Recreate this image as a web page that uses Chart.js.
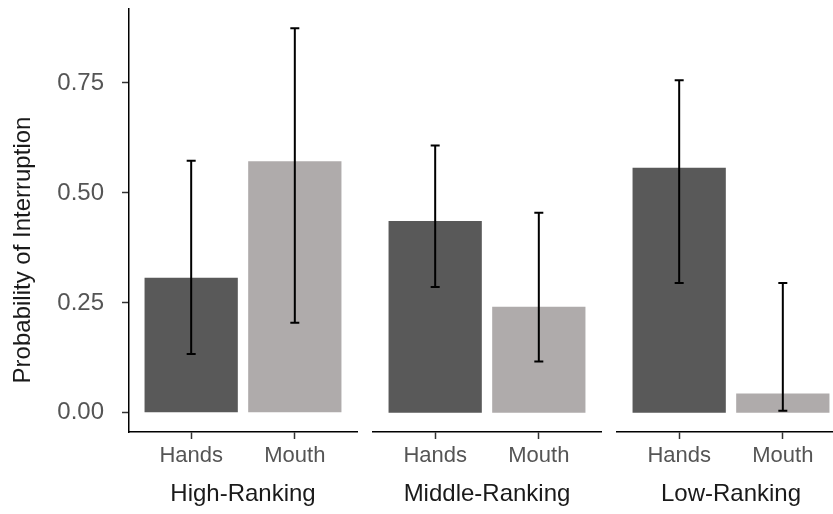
<!DOCTYPE html>
<html>
<head>
<meta charset="utf-8">
<script src="https://cdn.jsdelivr.net/npm/chart.js@4.4.0/dist/chart.umd.min.js"></script>
<style>
  html, body { margin: 0; padding: 0; background: #fff; overflow: hidden; }
  #wrap { position: relative; width: 833px; height: 514px; overflow: hidden; }
  canvas { position: absolute; top: 0; }
</style>
</head>
<body>
<div id="wrap">
  <canvas id="panel0" width="362" height="514" style="left:0px"></canvas>
  <canvas id="panel1" width="238" height="514" style="left:368px"></canvas>
  <canvas id="panel2" width="238" height="514" style="left:612px"></canvas>
</div>
<script>
// data
var categories = ['Hands', 'Mouth'];
var groups = ['High-Ranking', 'Middle-Ranking', 'Low-Ranking'];
var probHands  = [0.307, 0.436, 0.557];
var probMouth  = [0.572, 0.241, 0.044];
var lowerHands = [0.134, 0.286, 0.295];
var upperHands = [0.573, 0.608, 0.756];
var lowerMouth = [0.205, 0.117, 0.005];
var upperMouth = [0.874, 0.455, 0.295];
var yTicks = [0, 0.25, 0.5, 0.75];
var yTitle = 'Probability of Interruption';

var barColors = ['#595959', '#afabab'];
var fontFamily = '"Liberation Sans", Arial, sans-serif';

// draws the error bars with the chart's own scales
var errorBars = {
  id: 'errorBars',
  afterDatasetsDraw: function (chart) {
    var ctx = chart.ctx;
    var xs = chart.scales.x, ys = chart.scales.y;
    var lo = chart.options.plugins.errorBars.lower;
    var hi = chart.options.plugins.errorBars.upper;
    ctx.save();
    ctx.strokeStyle = '#000';
    ctx.lineWidth = 2;
    for (var i = 0; i < lo.length; i++) {
      var x = xs.getPixelForValue(i + 1);
      var y1 = ys.getPixelForValue(lo[i]);
      var y2 = ys.getPixelForValue(hi[i]);
      ctx.beginPath();
      ctx.moveTo(x, y1); ctx.lineTo(x, y2);
      ctx.moveTo(x - 4.5, y1); ctx.lineTo(x + 4.5, y1);
      ctx.moveTo(x - 4.5, y2); ctx.lineTo(x + 4.5, y2);
      ctx.stroke();
    }
    ctx.restore();
  }
};

// y title, centred a bit lower than the panel like in the original
var sideTitle = {
  id: 'sideTitle',
  afterDraw: function (chart) {
    if (!chart.options.plugins.sideTitle.show) return;
    var ctx = chart.ctx;
    ctx.save();
    ctx.translate(23, 250);
    ctx.rotate(-Math.PI / 2);
    ctx.font = '24px ' + fontFamily;
    ctx.fillStyle = '#1a1a1a';
    ctx.textAlign = 'center';
    ctx.textBaseline = 'middle';
    ctx.fillText(yTitle, 0, 0);
    ctx.restore();
  }
};

function makePanel(k) {
  var showY = k === 0;
  var vals = [probHands[k], probMouth[k]];
  new Chart(document.getElementById('panel' + k), {
    type: 'bar',
    data: {
      datasets: [{
        data: categories.map(function (c, i) { return { x: i + 1, y: vals[i] }; }),
        backgroundColor: barColors,
        borderWidth: 0,
        barPercentage: 0.9,
        categoryPercentage: 1.0
      }]
    },
    options: {
      responsive: false,
      animation: false,
      layout: { padding: { left: showY ? 0 : 5, right: 5, top: 9, bottom: 0 } },
      plugins: {
        legend: { display: false },
        tooltip: { enabled: false },
        sideTitle: { show: showY },
        errorBars: { lower: [lowerHands[k], lowerMouth[k]], upper: [upperHands[k], upperMouth[k]] }
      },
      scales: {
        x: {
          type: 'linear',
          offset: false,
          min: 0.4,
          max: 2.6,
          afterBuildTicks: function (s) { s.ticks = [{ value: 1 }, { value: 2 }]; },
          afterFit: function (s) { s.height = 82; s.paddingLeft = 0; s.paddingRight = 0; },
          ticks: {
            callback: function (v) { return categories[v - 1]; },
            font: { family: fontFamily, size: 22 },
            color: '#555555',
            padding: 4,
            autoSkip: false,
            maxRotation: 0
          },
          grid: { offset: false, drawOnChartArea: false, drawTicks: true, tickLength: 7, tickWidth: 1.5, tickColor: '#333' },
          border: { display: true, color: '#000', width: 1.5 },
          title: {
            display: true,
            text: groups[k],
            font: { family: fontFamily, size: 24 },
            color: '#1a1a1a',
            padding: { top: 0, bottom: 5 }
          }
        },
        y: {
          display: showY,
          min: -0.0435,
          max: 0.918,
          afterBuildTicks: function (s) { s.ticks = yTicks.map(function (v) { return { value: v }; }); },
          afterFit: function (s) { if (showY) s.width = 129; s.paddingTop = 0; s.paddingBottom = 0; },
          ticks: {
            callback: function (v) { return v.toFixed(2); },
            font: { family: fontFamily, size: 24 },
            color: '#555555',
            padding: 18
          },
          grid: { drawOnChartArea: false, drawTicks: true, tickLength: 7, tickWidth: 1.5, tickColor: '#333' },
          border: { display: true, color: '#000', width: 1.5 }
        }
      }
    },
    plugins: [errorBars, sideTitle]
  });
}

document.addEventListener('DOMContentLoaded', function () {
  for (var k = 0; k < groups.length; k++) makePanel(k);
});
</script>
</body>
</html>
